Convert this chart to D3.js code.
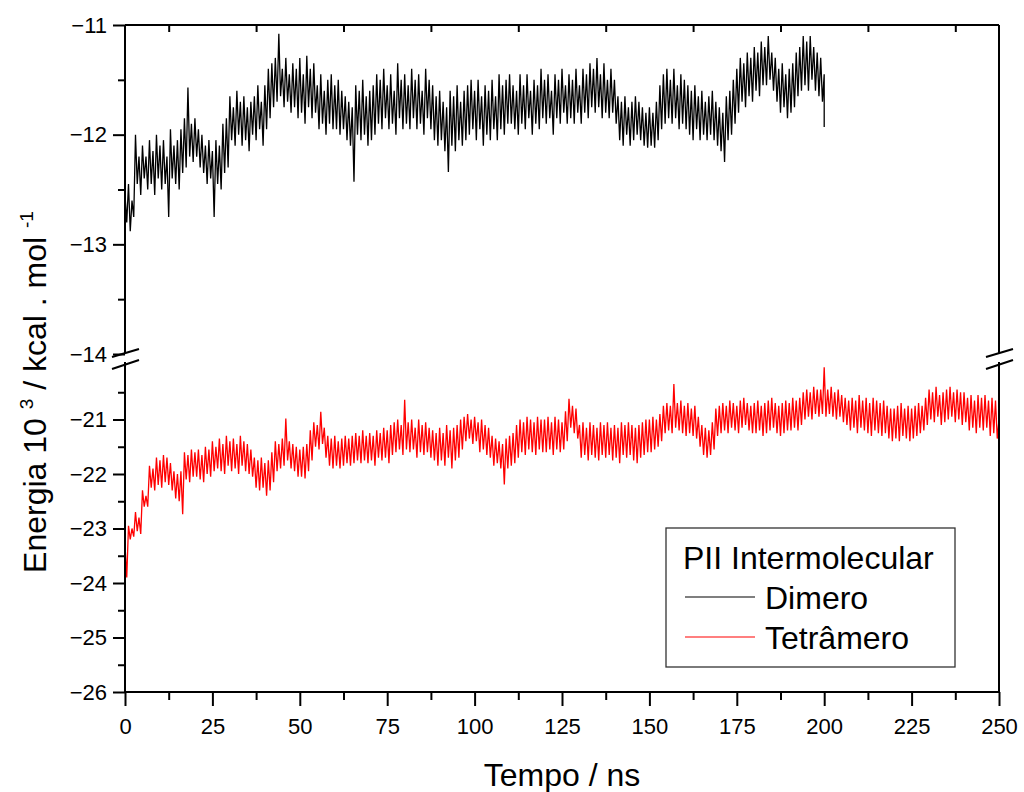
<!DOCTYPE html>
<html>
<meta charset="utf-8">
<style>
body { margin: 0; background: #fff; }
svg { font-family: "Liberation Sans", Arial, sans-serif; }
.axis text { font-size: 22px; fill: #000; }
.axis line { stroke: #000; stroke-width: 2px; }
.axis path { display: none; }
.frame { stroke: #000; stroke-width: 2px; fill: none; }
.brk { stroke: #000; stroke-width: 2px; }
</style>
<body>
<svg width="1024" height="792"></svg>
<script src="https://d3js.org/d3.v7.min.js"></script>
<script>

// band edges, one value per ns
// Dimero, t = 0..200
var dimeroHi = [
  -12.55, -12.45, -12.60, -12.00, -12.20, -12.10, -12.20, -12.05, -12.15, -12.00,
  -12.10, -12.05, -12.20, -11.95, -12.10, -12.05, -11.95, -11.85, -11.57, -11.90,
  -11.85, -11.95, -12.00, -12.10, -12.05, -12.15, -12.05, -12.10, -11.90, -11.85,
  -11.65, -11.75, -11.60, -11.70, -11.65, -11.75, -11.70, -11.65, -11.55, -11.70,
  -11.55, -11.40, -11.35, -11.30, -11.08, -11.40, -11.30, -11.45, -11.35, -11.40,
  -11.30, -11.45, -11.28, -11.40, -11.35, -11.55, -11.45, -11.60, -11.50, -11.45,
  -11.55, -11.50, -11.60, -11.65, -11.70, -11.75, -11.55, -11.60, -11.50, -11.65,
  -11.60, -11.55, -11.45, -11.50, -11.40, -11.55, -11.45, -11.60, -11.35, -11.50,
  -11.45, -11.55, -11.40, -11.50, -11.45, -11.60, -11.40, -11.50, -11.55, -11.65,
  -11.60, -11.70, -11.75, -11.60, -11.65, -11.55, -11.70, -11.60, -11.55, -11.50,
  -11.60, -11.50, -11.65, -11.55, -11.60, -11.50, -11.65, -11.45, -11.55, -11.50,
  -11.45, -11.55, -11.60, -11.45, -11.55, -11.45, -11.60, -11.50, -11.55, -11.40,
  -11.50, -11.45, -11.60, -11.45, -11.50, -11.40, -11.55, -11.45, -11.50, -11.40,
  -11.55, -11.40, -11.45, -11.35, -11.40, -11.30, -11.45, -11.35, -11.50, -11.40,
  -11.50, -11.65, -11.70, -11.65, -11.75, -11.70, -11.65, -11.70, -11.75, -11.80,
  -11.75, -11.80, -11.70, -11.55, -11.45, -11.40, -11.50, -11.40, -11.55, -11.45,
  -11.50, -11.55, -11.60, -11.55, -11.65, -11.60, -11.70, -11.65, -11.60, -11.70,
  -11.75, -11.80, -11.65, -11.60, -11.50, -11.40, -11.30, -11.35, -11.25, -11.30,
  -11.20, -11.25, -11.15, -11.20, -11.10, -11.25, -11.30, -11.40, -11.35, -11.45,
  -11.40, -11.35, -11.25, -11.20, -11.10, -11.15, -11.10, -11.20, -11.25, -11.30,
  -11.45
];
var dimeroLo = [
  -12.80, -12.88, -12.75, -12.45, -12.55, -12.40, -12.50, -12.45, -12.55, -12.40,
  -12.50, -12.45, -12.75, -12.40, -12.45, -12.50, -12.35, -12.30, -12.20, -12.25,
  -12.20, -12.30, -12.35, -12.45, -12.40, -12.75, -12.45, -12.50, -12.35, -12.30,
  -12.05, -12.10, -12.00, -12.10, -12.05, -12.15, -12.00, -12.05, -11.95, -12.10,
  -11.95, -11.85, -11.75, -11.70, -11.65, -11.75, -11.70, -11.80, -11.75, -11.85,
  -11.80, -11.90, -11.75, -11.85, -11.80, -11.95, -11.90, -12.00, -11.90, -11.95,
  -11.95, -12.00, -11.95, -12.05, -12.10, -12.43, -12.00, -12.05, -12.00, -12.10,
  -12.05, -12.00, -11.90, -11.95, -11.85, -11.95, -11.90, -12.00, -11.85, -11.95,
  -11.90, -11.95, -11.85, -11.95, -11.90, -12.00, -11.85, -11.95, -12.05, -12.10,
  -12.05, -12.15, -12.34, -12.10, -12.15, -12.05, -12.10, -12.05, -12.00, -11.95,
  -12.05, -11.95, -12.10, -12.00, -12.05, -11.95, -12.05, -11.95, -12.00, -11.90,
  -11.90, -11.95, -12.00, -11.90, -11.95, -11.85, -12.00, -11.90, -11.95, -11.85,
  -11.90, -11.85, -12.00, -11.85, -11.90, -11.80, -11.90, -11.85, -11.90, -11.80,
  -11.90, -11.80, -11.85, -11.75, -11.80, -11.75, -11.85, -11.80, -11.85, -11.80,
  -11.90, -12.05, -12.10, -12.00, -12.10, -12.05, -12.00, -12.05, -12.10, -12.12,
  -12.10, -12.12, -12.05, -11.95, -11.90, -11.85, -11.90, -11.85, -11.95, -11.90,
  -11.95, -12.00, -12.05, -11.95, -12.05, -12.00, -12.05, -12.00, -12.05, -12.10,
  -12.15, -12.25, -12.05, -12.00, -11.90, -11.80, -11.70, -11.75, -11.65, -11.70,
  -11.60, -11.65, -11.55, -11.55, -11.50, -11.60, -11.70, -11.80, -11.75, -11.85,
  -11.80, -11.75, -11.65, -11.60, -11.55, -11.60, -11.50, -11.60, -11.65, -11.70,
  -11.93
];

// Tetrâmero, t = 0..250
var tetrameroHi = [
  -23.30, -22.95, -23.00, -22.70, -22.80, -22.30, -22.40, -21.85, -21.90, -21.70,
  -21.75, -21.65, -21.70, -21.80, -21.95, -22.00, -21.95, -21.60, -21.65, -21.55,
  -21.60, -21.55, -21.65, -21.50, -21.55, -21.40, -21.50, -21.35, -21.45, -21.30,
  -21.40, -21.35, -21.45, -21.30, -21.40, -21.45, -21.55, -21.70, -21.75, -21.70,
  -21.80, -21.75, -21.60, -21.40, -21.45, -21.35, -20.98, -21.40, -21.45, -21.50,
  -21.55, -21.50, -21.45, -21.20, -21.05, -21.10, -20.86, -21.15, -21.30, -21.35,
  -21.30, -21.40, -21.35, -21.30, -21.35, -21.30, -21.25, -21.30, -21.20, -21.30,
  -21.25, -21.30, -21.20, -21.25, -21.15, -21.20, -21.10, -21.05, -21.00, -21.10,
  -20.64, -21.05, -21.00, -21.15, -21.00, -21.10, -21.05, -21.15, -21.20, -21.25,
  -21.15, -21.25, -21.10, -21.20, -21.15, -21.10, -21.00, -20.95, -20.90, -21.00,
  -20.95, -21.05, -21.00, -21.10, -21.15, -21.30, -21.35, -21.40, -21.45, -21.35,
  -21.30, -21.25, -21.10, -21.00, -21.05, -20.95, -21.00, -21.05, -20.95, -21.00,
  -21.00, -20.95, -21.05, -20.95, -21.00, -21.05, -20.85, -20.62, -20.75, -20.80,
  -21.10, -21.05, -21.15, -21.05, -21.10, -21.15, -21.05, -21.10, -21.05, -21.15,
  -21.10, -21.15, -21.05, -21.10, -21.05, -21.10, -21.15, -21.10, -21.05, -21.00,
  -21.00, -20.95, -21.00, -20.90, -20.75, -20.70, -20.75, -20.35, -20.70, -20.65,
  -20.75, -20.70, -20.80, -20.75, -20.95, -21.10, -21.15, -21.20, -21.05, -20.80,
  -20.75, -20.70, -20.75, -20.65, -20.70, -20.75, -20.65, -20.60, -20.70, -20.75,
  -20.70, -20.65, -20.75, -20.70, -20.65, -20.60, -20.70, -20.75, -20.70, -20.65,
  -20.70, -20.60, -20.65, -20.60, -20.50, -20.45, -20.50, -20.40, -20.45, -20.45,
  -20.04, -20.45, -20.40, -20.50, -20.45, -20.55, -20.60, -20.65, -20.60, -20.65,
  -20.55, -20.65, -20.60, -20.70, -20.60, -20.65, -20.70, -20.65, -20.75, -20.80,
  -20.80, -20.75, -20.70, -20.80, -20.75, -20.80, -20.75, -20.70, -20.75, -20.60,
  -20.45, -20.50, -20.40, -20.55, -20.50, -20.45, -20.40, -20.50, -20.45, -20.50,
  -20.50, -20.60, -20.55, -20.65, -20.55, -20.60, -20.55, -20.65, -20.60, -20.65,
  -21.00
];
var tetrameroLo = [
  -23.90, -23.20, -23.15, -23.05, -23.10, -22.60, -22.60, -22.25, -22.30, -22.20,
  -22.25, -22.15, -22.20, -22.30, -22.45, -22.50, -22.74, -22.10, -22.15, -22.05,
  -22.05, -22.10, -22.15, -22.00, -22.05, -21.95, -21.90, -21.95, -22.00, -21.85,
  -21.95, -21.90, -22.00, -21.85, -21.95, -22.00, -22.05, -22.25, -22.30, -22.25,
  -22.40, -22.30, -22.15, -21.95, -21.90, -21.85, -21.75, -21.90, -21.95, -22.05,
  -22.05, -22.08, -21.95, -21.75, -21.50, -21.55, -21.45, -21.70, -21.85, -21.90,
  -21.85, -21.90, -21.85, -21.80, -21.85, -21.80, -21.75, -21.80, -21.75, -21.80,
  -21.75, -21.85, -21.70, -21.75, -21.70, -21.80, -21.65, -21.60, -21.55, -21.65,
  -21.55, -21.60, -21.55, -21.70, -21.60, -21.65, -21.60, -21.70, -21.75, -21.85,
  -21.75, -21.85, -21.70, -21.90, -21.75, -21.70, -21.55, -21.40, -21.35, -21.45,
  -21.40, -21.60, -21.55, -21.65, -21.70, -21.85, -21.80, -21.90, -22.19, -21.90,
  -21.85, -21.80, -21.70, -21.60, -21.65, -21.55, -21.60, -21.65, -21.55, -21.60,
  -21.60, -21.55, -21.65, -21.55, -21.60, -21.55, -21.40, -21.15, -21.25, -21.35,
  -21.70, -21.65, -21.75, -21.65, -21.70, -21.75, -21.65, -21.70, -21.65, -21.75,
  -21.70, -21.80, -21.65, -21.70, -21.65, -21.75, -21.80, -21.70, -21.65, -21.60,
  -21.60, -21.55, -21.50, -21.40, -21.25, -21.20, -21.25, -21.15, -21.20, -21.25,
  -21.30, -21.25, -21.30, -21.35, -21.50, -21.65, -21.70, -21.65, -21.55, -21.30,
  -21.25, -21.20, -21.25, -21.15, -21.20, -21.25, -21.15, -21.10, -21.20, -21.25,
  -21.25, -21.20, -21.30, -21.25, -21.20, -21.15, -21.25, -21.30, -21.25, -21.20,
  -21.20, -21.15, -21.20, -21.10, -21.00, -20.95, -21.00, -20.90, -20.95, -20.90,
  -20.95, -20.90, -20.95, -21.00, -20.95, -21.05, -21.10, -21.20, -21.15, -21.25,
  -21.15, -21.20, -21.25, -21.30, -21.20, -21.25, -21.30, -21.25, -21.35, -21.40,
  -21.35, -21.40, -21.30, -21.35, -21.40, -21.35, -21.30, -21.25, -21.20, -21.10,
  -21.00, -21.05, -20.95, -21.10, -21.05, -21.00, -20.95, -21.05, -21.00, -21.10,
  -21.05, -21.20, -21.15, -21.25, -21.15, -21.20, -21.15, -21.30, -21.25, -21.35,
  -21.40
];

var xMajor = [0, 25, 50, 75, 100, 125, 150, 175, 200, 225, 250];
var xMinor = [12.5, 37.5, 62.5, 87.5, 112.5, 137.5, 162.5, 187.5, 212.5, 237.5];
var yUpMajor = [-14, -13, -12, -11];
var yUpMinor = [-13.5, -12.5, -11.5];
var yLoMajor = [-26, -25, -24, -23, -22, -21];
var yLoMinor = [-25.5, -24.5, -23.5, -22.5, -21.5, -20.5];

var svg = d3.select("svg");
var pLeft = 125, pRight = 999, pTop = 25, pBottom = 692;
var upBottom = 354, loTop = 365;

var x = d3.scaleLinear().domain([0, 250]).range([pLeft, pRight]);
var yUp = d3.scaleLinear().domain([-14, -11]).range([upBottom, pTop]);
var yLo = d3.scaleLinear().domain([-26, -20]).range([pBottom, loTop]);

// the trace swings from the upper edge at t to the lower edge at t + 0.5
function trace(hi, lo) {
  var pts = [];
  hi.forEach(function(v, i) {
    pts.push([i, v]);
    pts.push([Math.min(i + 0.5, hi.length - 1), lo[i]]);
  });
  return pts;
}

svg.append("path")
    .datum(trace(tetrameroHi, tetrameroLo))
    .attr("fill", "none")
    .attr("stroke", "#ff0000")
    .attr("stroke-width", 1.3)
    .attr("d", d3.line()
        .x(function(d) { return x(d[0]); })
        .y(function(d) { return yLo(d[1]); }));

svg.append("path")
    .datum(trace(dimeroHi, dimeroLo))
    .attr("fill", "none")
    .attr("stroke", "#000")
    .attr("stroke-width", 1.3)
    .attr("d", d3.line()
        .x(function(d) { return x(d[0]); })
        .y(function(d) { return yUp(d[1]); }));

// frame
function frameLine(x1, y1, x2, y2) {
  svg.append("line").attr("class", "frame")
      .attr("x1", x1).attr("y1", y1).attr("x2", x2).attr("y2", y2);
}
frameLine(pLeft, pTop, pRight, pTop);
frameLine(pLeft, pBottom, pRight, pBottom);
frameLine(pLeft, pTop, pLeft, 353);
frameLine(pLeft, 362, pLeft, pBottom);
frameLine(pRight, pTop, pRight, 353);
frameLine(pRight, 362, pRight, pBottom);

// axes
svg.append("g").attr("class", "axis")
    .attr("transform", "translate(0," + pBottom + ")")
    .call(d3.axisBottom(x).tickValues(xMajor).tickSize(14).tickPadding(12).tickFormat(d3.format("d")));
svg.append("g").attr("class", "axis")
    .attr("transform", "translate(0," + pBottom + ")")
    .call(d3.axisBottom(x).tickValues(xMinor).tickSize(8).tickFormat(""));
svg.append("g").attr("class", "axis")
    .attr("transform", "translate(0," + pTop + ")")
    .call(d3.axisTop(x).tickValues(xMinor).tickSize(-7).tickFormat(""));

svg.append("g").attr("class", "axis")
    .attr("transform", "translate(" + pLeft + ",0)")
    .call(d3.axisLeft(yUp).tickValues(yUpMajor).tickSize(12).tickPadding(6).tickFormat(d3.format("d")));
svg.append("g").attr("class", "axis")
    .attr("transform", "translate(" + pLeft + ",0)")
    .call(d3.axisLeft(yUp).tickValues(yUpMinor).tickSize(7).tickFormat(""));
svg.append("g").attr("class", "axis")
    .attr("transform", "translate(" + pLeft + ",0)")
    .call(d3.axisLeft(yLo).tickValues(yLoMajor).tickSize(12).tickPadding(6).tickFormat(d3.format("d")));
svg.append("g").attr("class", "axis")
    .attr("transform", "translate(" + pLeft + ",0)")
    .call(d3.axisLeft(yLo).tickValues(yLoMinor).tickSize(7).tickFormat(""));

// break marks
[pLeft, pRight].forEach(function(cx) {
  svg.append("line").attr("class", "brk")
      .attr("x1", cx - 13).attr("y1", 357).attr("x2", cx + 14).attr("y2", 349);
  svg.append("line").attr("class", "brk")
      .attr("x1", cx - 13).attr("y1", 369).attr("x2", cx + 14).attr("y2", 360);
});

// axis titles
svg.append("text")
    .attr("x", 562)
    .attr("y", 786)
    .attr("text-anchor", "middle")
    .style("font-size", "32px")
    .text("Tempo / ns");

var yt = svg.append("text")
    .attr("transform", "translate(46,392) rotate(-90)")
    .attr("text-anchor", "middle")
    .style("font-size", "32px");
yt.append("tspan").text("Energia 10 ");
yt.append("tspan").attr("dy", -13).style("font-size", "19px").text("3");
yt.append("tspan").attr("dy", 13).text(" / kcal . mol ");
yt.append("tspan").attr("dy", -13).style("font-size", "19px").text("-1");

// legend
var lg = svg.append("g");
lg.append("rect")
    .attr("x", 666).attr("y", 528).attr("width", 289).attr("height", 139)
    .attr("fill", "#fff").attr("stroke", "#333").attr("stroke-width", 1.3);
lg.append("text").attr("x", 683).attr("y", 569).style("font-size", "32px").text("PII Intermolecular");
lg.append("line").attr("x1", 685).attr("x2", 755).attr("y1", 597).attr("y2", 597)
    .attr("stroke", "#000").attr("stroke-width", 1.2);
lg.append("text").attr("x", 765).attr("y", 609).style("font-size", "32px").text("Dimero");
lg.append("line").attr("x1", 685).attr("x2", 755).attr("y1", 637).attr("y2", 637)
    .attr("stroke", "#ff0000").attr("stroke-width", 1.2);
lg.append("text").attr("x", 765).attr("y", 649).style("font-size", "32px").text("Tetrâmero");

</script>
</body>
</html>
